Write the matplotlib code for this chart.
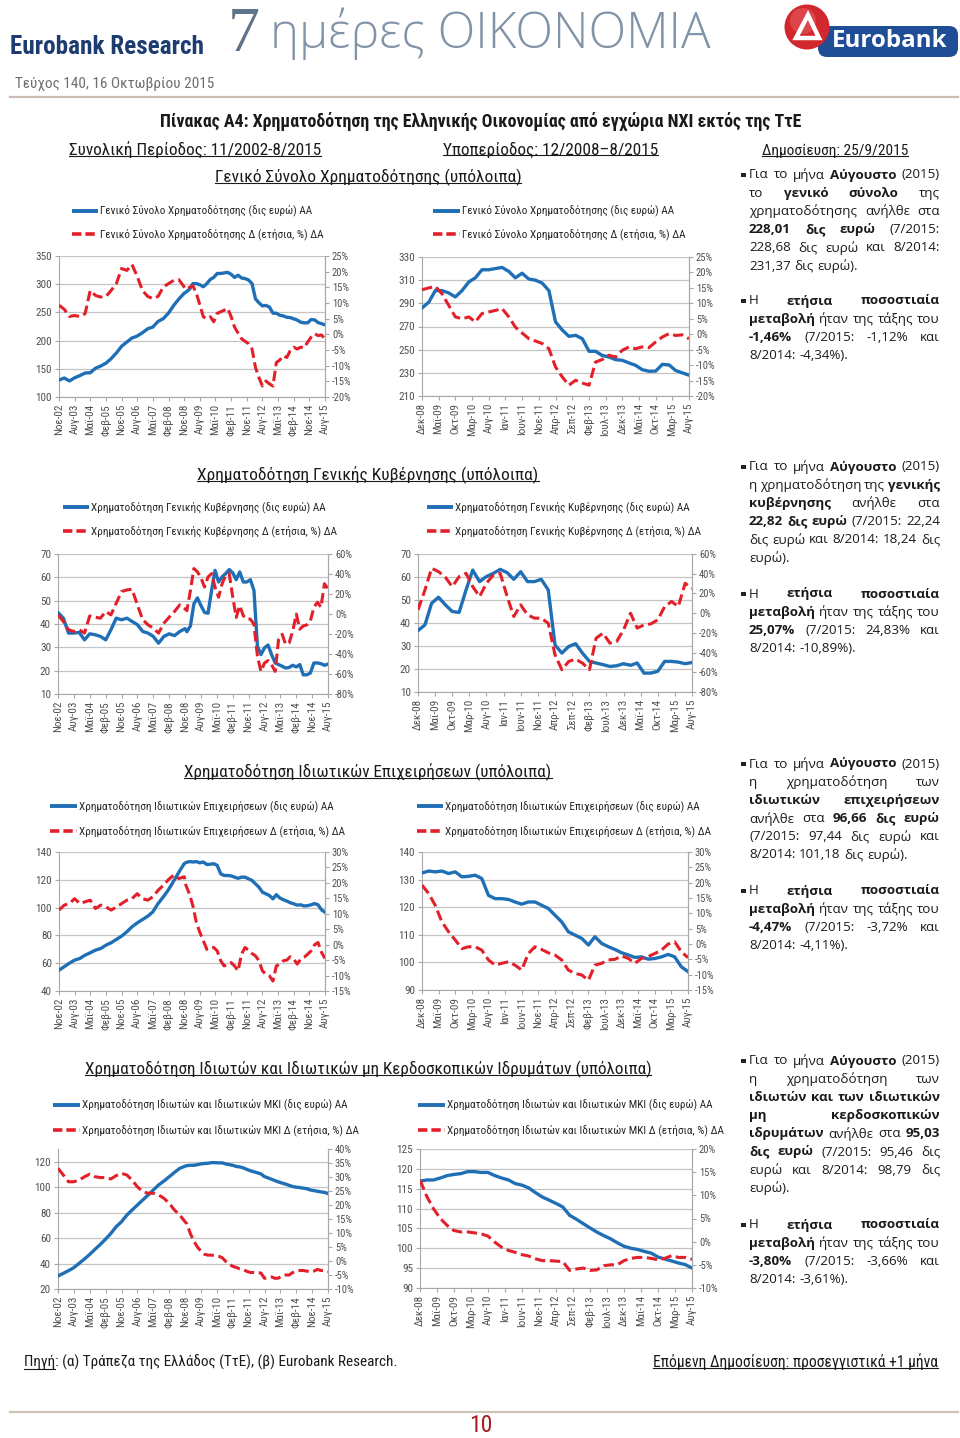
import pandas as pd
import matplotlib
matplotlib.use('Agg')
import matplotlib.pyplot as plt
from matplotlib import font_manager
from matplotlib.patches import Rectangle, Circle, FancyBboxPatch, Polygon

W, H = 960, 1438

have = {f.name for f in font_manager.fontManager.ttflist}
def pick(*names):
    for n in names:
        if n in have:
            return n
    return 'DejaVu Sans'

NARROW = pick('Liberation Sans Narrow', 'Roboto Condensed', 'Open Sans Condensed', 'DejaVu Sans')
BODY = pick('Open Sans', 'Noto Sans', 'DejaVu Sans')
SERIF = pick('Liberation Serif', 'DejaVu Serif')
plt.rcParams['font.family'] = [NARROW, 'DejaVu Sans']

# monthly axis sampled: quarterly to 11/2008, every two months from 12/2008
dates = pd.date_range('2002-11-01', '2008-11-01', freq='3MS').append(
    pd.date_range('2008-12-01', '2015-08-01', freq='2MS'))
SUB = 25  # 12/2008

full_ticks = pd.date_range('2002-11-01', '2015-08-01', freq='9MS')
sub_ticks = pd.date_range('2008-12-01', '2015-08-01', freq='5MS')
MONTHS = ['Ιαν', 'Φεβ', 'Μαρ', 'Απρ', 'Μαϊ', 'Ιουν', 'Ιουλ', 'Αυγ', 'Σεπ', 'Οκτ', 'Νοε', 'Δεκ']

# total financing
total_bn = [130, 133.7, 128.4, 134, 138, 142.5, 143, 151, 155, 160, 168, 178, 190, 197.5, 204.6,
            208, 214, 221, 224, 234, 239, 249, 262.5, 274, 284,
            286, 291, 301, 301, 299, 295.5, 301, 308.5, 312, 319, 319, 320, 321, 317.5, 312, 316,
            311, 310, 307.5, 301, 274, 267, 261.5, 262.4, 259.5, 248.6, 248.6, 245, 243.7, 241.4,
            240.8, 238.5, 236.5, 232.7, 231.37, 231.5, 237.3, 236.8, 232, 230, 228.01]
total_pct = [9.3, 8, 5.7, 6, 5.7, 6.6, 14, 12.4, 11.9, 12.1, 14, 16.2, 21, 20.4, 22.3, 18.5, 14,
             12.1, 11.4, 12.1, 15.1, 16.2, 17.2, 17.4, 15.1,
             14.4, 15, 15.5, 13.1, 9.4, 5.6, 5.0, 5.6, 4.0, 6.7, 7.2, 7.7, 8.3, 5.6, 2.3, 0.4, -1.4,
             -2.2, -3, -4.7, -10.6, -13.8, -16.5, -14.9, -15.8, -16.5, -9, -8.2, -6.8, -7.4, -5.2,
             -4.1, -4.7, -4.1, -4.34, -2.5, -0.9, 0.2, -0.4, -0.2, -1.46]

# general government
gov_bn = [44.9, 42.5, 36.1, 36.1, 36.4, 33.2, 35.8, 35.4, 34.7, 33.2, 37.5, 42.5, 41.8, 42.5, 41.1,
          39.7, 36.8, 36.1, 34.7, 31.8, 34.7, 35.8, 35, 36.8, 38,
          36.7, 39.2, 48.6, 51.2, 47.9, 45, 44.6, 54.4, 63, 58, 60.2, 61.6, 63.3, 61.9, 59, 62.3,
          58, 58, 59, 54.4, 30.5, 26.9, 29.8, 31, 26.9, 23.3, 22.6, 21.9, 21.1, 21.4, 22.3, 21.6,
          22.6, 18.2, 18.24, 19, 23.3, 23.3, 23, 22.3, 22.82]
gov_pct = [-0.9, -7.5, -15.8, -17.5, -15.8, -19.1, -1.9, -3.2, -4.2, 2.5, -0.9, 10.8, 22.4, 24.1,
           24.7, 9.1, -5.8, -10.8, -14.2, -19.1, -9.2, -3.2, 2.5, 9.1, 5,
           3.3, 23.6, 45.5, 42.1, 36.4, 26.9, 37, 40.4, 26.9, 16.8, 30.3, 38.7, 40.4, 16.8, -3.4,
           8.4, -1.7, -5.1, -5.1, -10.2, -42.2, -57.4, -49, -46.6, -50.7, -57.4, -25.4, -20.3,
           -30.4, -28.7, -16.9, -0.1, -15.2, -11.9, -10.89, -6.8, 6.7, 11.8, 6.7, 30.3, 25.07]

# private businesses
bus_bn = [55, 57.5, 60, 62.2, 63.4, 65.8, 67.5, 69.4, 70.6, 73, 74.7, 77.1, 79.5, 82.6, 86.2, 89,
          91.4, 93.8, 96.9, 102.9, 107.7, 113, 119.2, 125.6, 131.6,
          132.4, 133.1, 132.8, 133.1, 132.2, 132.8, 131, 131.2, 131.6, 130.4, 124.3, 123.1, 123.1,
          122.8, 121.9, 121.1, 121.9, 121.9, 120.7, 119.5, 117.1, 114.7, 111.1, 109.9, 108.7,
          106.3, 109.3, 106.9, 105.7, 104.7, 103.5, 102.7, 101.8, 102, 101.18, 101.4, 102, 102.9,
          102, 98.4, 96.66]
bus_pct = [11.2, 12.8, 13.3, 14.9, 13.3, 13.9, 14.4, 11.7, 12.8, 12.2, 11.2, 12.2, 13.3, 14.4,
           14.9, 16.5, 14.9, 14.4, 15.5, 17.6, 19.2, 21.1, 22.5, 21.4, 22,
           19.2, 16.4, 12.6, 7.2, 4, 1.3, -1.5, -0.9, -0.9, -2, -5.2, -6.9, -6.3, -5.8, -6.9, -8.5,
           -3.1, -0.9, -1.8, -2.9, -3.6, -5.2, -8.5, -9.6, -10.1, -11.8, -6.9, -6.3, -5.2, -5,
           -3.9, -4.7, -6.3, -4.7, -4.11, -3.1, -2, 0, 0.7, -2.5, -4.47]

# households and private non-profit institutions
hh_bn = [30.2, 32.3, 34.4, 36.8, 40.2, 43.6, 47.2, 51.2, 55.1, 59.3, 63.7, 69, 72.9, 78.1, 82, 86,
         89.9, 93.8, 97.7, 101.7, 104.8, 108.2, 111.6, 114.8, 116.5,
         116.9, 117.2, 117.2, 117.7, 118.3, 118.6, 118.8, 119.3, 119.3, 119.1, 119.1, 118.3, 117.7,
         117.2, 116.3, 115.9, 115.2, 114, 112.9, 112.1, 111.3, 110.4, 108.3, 107.3, 106.2, 105.1,
         104.1, 103.2, 102.4, 101.4, 100.5, 100, 99.7, 99.2, 98.79, 97.8, 97.3, 96.8, 96.3, 95.9,
         95.03]
hh_pct = [33.1, 30.7, 28.3, 28.3, 28.9, 30.1, 31, 30.1, 29.8, 29.8, 29.3, 30.5, 31.3, 30.7, 28.9,
          26.5, 24.8, 24.2, 24.2, 23.6, 22.4, 20.6, 18.2, 16.4, 14,
          13.3, 9.7, 7.1, 5, 3.5, 2.4, 2.1, 2.1, 1.9, 1.7, 1.2, -0.1, -1.2, -1.9, -2.3, -2.8, -3.1,
          -3.7, -4.1, -4.1, -4.2, -4.3, -6.2, -5.9, -5.7, -6.2, -6.1, -5.2, -5, -5, -4.1, -3.6,
          -3.4, -3.4, -3.61, -3.9, -3.6, -3, -3.4, -3.4, -3.8]

legend_labels = [
    ('Γενικό Σύνολο Χρηματοδότησης (δις ευρώ) ΑΑ', 'Γενικό Σύνολο Χρηματοδότησης Δ (ετήσια, %) ΔΑ'),
    ('Χρηματοδότηση Γενικής Κυβέρνησης (δις ευρώ) ΑΑ', 'Χρηματοδότηση Γενικής Κυβέρνησης Δ (ετήσια, %) ΔΑ'),
    ('Χρηματοδότηση Ιδιωτικών Επιχειρήσεων (δις ευρώ) ΑΑ', 'Χρηματοδότηση Ιδιωτικών Επιχειρήσεων Δ (ετήσια, %) ΔΑ'),
    ('Χρηματοδότηση Ιδιωτών και Ιδιωτικών ΜΚΙ (δις ευρώ) ΑΑ', 'Χρηματοδότηση Ιδιωτών και Ιδιωτικών ΜΚΙ Δ (ετήσια, %) ΔΑ'),
]
row_titles = ['Γενικό Σύνολο Χρηματοδότησης (υπόλοιπα)',
              'Χρηματοδότηση Γενικής Κυβέρνησης (υπόλοιπα)',
              'Χρηματοδότηση Ιδιωτικών Επιχειρήσεων (υπόλοιπα)',
              'Χρηματοδότηση Ιδιωτών και Ιδιωτικών μη Κερδοσκοπικών Ιδρυμάτων (υπόλοιπα)']

BLUE = '#1f6fb6'
RED = '#e3202a'
GRID = '#c4c4c4'
AXC = '#a8a8a8'
TICK = '#505050'
TXT = '#1a1a1a'

fig = plt.figure(figsize=(W / 100, H / 100), dpi=100)
ax0 = fig.add_axes([0, 0, 1, 1])
ax0.set_xlim(0, W)
ax0.set_ylim(H, 0)
ax0.axis('off')
R = fig.canvas.get_renderer()


def put(x, y, s, width=None, size=10, ha='left', family=None, weight='normal', color=TXT,
        underline=False):
    t = ax0.text(x, y, s, fontsize=size, ha=ha, va='center', family=family or NARROW,
                 fontweight=weight, color=color)
    if width:
        t.set_fontsize(size * width / t.get_window_extent(R).width)
    if underline:
        bb = t.get_window_extent(R)
        em = t.get_fontsize() * 100 / 72
        uy = H - (bb.y0 + 0.15 * em)
        ax0.plot([bb.x0, bb.x1], [uy, uy], color=color, lw=0.8)
    return t


def label(d):
    return f'{MONTHS[d.month - 1]}-{d.year % 100:02d}'


def chart(box, xs, bn, pct, ylim, yticks, rlim, rticks, xt):
    x0, y0, x1, y1 = box
    ax = fig.add_axes([x0 / W, 1 - y1 / H, (x1 - x0) / W, (y1 - y0) / H])
    ax.plot(xs, bn, color=BLUE, lw=2.4, zorder=3)
    ax.set_xlim(xs[0], xs[-1])
    ax.set_ylim(*ylim)
    ax.set_yticks(yticks)
    ax.set_yticklabels([f'{v:g}' for v in yticks])
    ax.set_xticks(list(xt.to_pydatetime()))
    ax.set_xticklabels([label(d) for d in xt], rotation=90)
    ax.grid(axis='y', color=GRID, lw=0.9)
    ax.set_axisbelow(True)
    ax.spines['top'].set_visible(False)
    for s in ['left', 'bottom', 'right']:
        ax.spines[s].set_color(AXC)
    ax.tick_params(colors=AXC, labelcolor=TICK, length=3, width=0.8, labelsize=8, pad=2)
    ax2 = ax.twinx()
    ax2.plot(xs, pct, color=RED, lw=2.2, dashes=(3.4, 1.5))
    ax2.set_ylim(*rlim)
    ax2.set_yticks(rticks)
    ax2.set_yticklabels([f'{v:g}%' for v in rticks])
    for s in ['top', 'left', 'bottom']:
        ax2.spines[s].set_visible(False)
    ax2.spines['right'].set_color(AXC)
    ax2.tick_params(colors=AXC, labelcolor=TICK, length=3, width=0.8, labelsize=7.6, pad=2)


def rng(a, b, s):
    out, v = [], a
    while v <= b + 1e-9:
        out.append(round(v, 6))
        v += s
    return out


xs = list(dates.to_pydatetime())
series = [(total_bn, total_pct), (gov_bn, gov_pct), (bus_bn, bus_pct), (hh_bn, hh_pct)]

layout = [
    dict(full=(59, 256, 325, 397), sub=(422, 257, 689, 396),
         fy=((100, 350), rng(100, 350, 50)), fr=((-20, 25), rng(-20, 25, 5)),
         sy=((210, 330), rng(210, 330, 20)), sr=((-20, 25), rng(-20, 25, 5)),
         leg=((72, 100), (433, 462)), ly=(211, 234), title_y=177),
    dict(full=(58, 554, 328, 694), sub=(418, 554, 692, 692),
         fy=((10, 70), rng(10, 70, 10)), fr=((-80, 60), rng(-80, 60, 20)),
         sy=((10, 70), rng(10, 70, 10)), sr=((-80, 60), rng(-80, 60, 20)),
         leg=((63, 91), (427, 455)), ly=(507, 531), title_y=475),
    dict(full=(59, 852, 325, 991), sub=(422, 852, 688, 990),
         fy=((40, 140), rng(40, 140, 20)), fr=((-15, 30), rng(-15, 30, 5)),
         sy=((90, 140), rng(90, 140, 10)), sr=((-15, 30), rng(-15, 30, 5)),
         leg=((50, 79), (417, 445)), ly=(806, 831), title_y=772),
    dict(full=(58, 1149, 328, 1289), sub=(420, 1149, 692, 1288),
         fy=((20, 130), rng(20, 120, 20)), fr=((-10, 40), rng(-10, 40, 5)),
         sy=((90, 125), rng(90, 125, 5)), sr=((-10, 20), rng(-10, 20, 5)),
         leg=((53, 82), (418, 447)), ly=(1105, 1130), title_y=1069),
]
title_widths = [306, 340, 366, 567]

# legend font size from the first label
probe = ax0.text(0, 0, legend_labels[0][0], fontsize=10, family=NARROW)
LEG_SIZE = 10 * 212 / probe.get_window_extent(R).width
probe.remove()

for i, (lay, (bn, pct)) in enumerate(zip(layout, series)):
    chart(lay['full'], xs, bn, pct, lay['fy'][0], lay['fy'][1], lay['fr'][0], lay['fr'][1], full_ticks)
    chart(lay['sub'], xs[SUB:], bn[SUB:], pct[SUB:], lay['sy'][0], lay['sy'][1],
          lay['sr'][0], lay['sr'][1], sub_ticks)
    put(368, lay['title_y'], row_titles[i], width=title_widths[i], ha='center', underline=True)
    for lx, tx in lay['leg']:
        ya, yb = lay['ly']
        ax0.plot([lx, tx - 2], [ya, ya], color=BLUE, lw=2.8, solid_capstyle='butt')
        ax0.plot([lx, tx - 2], [yb, yb], color=RED, lw=2.6, dashes=(2.6, 1.1))
        ax0.text(tx, ya, legend_labels[i][0], fontsize=LEG_SIZE, va='center', color='#262626')
        ax0.text(tx, yb, legend_labels[i][1], fontsize=LEG_SIZE, va='center', color='#262626')

# header
put(10, 47, 'Eurobank Research', width=193, weight='bold', color='#1d3c70')
put(244, 36, '7', size=46, ha='center', family=SERIF, color='#5f7389')
put(270, 34, 'ημέρες ΟΙΚΟΝΟΜΙΑ', width=440, family=BODY, weight='light', color='#8193a8')
ax0.add_patch(FancyBboxPatch((818, 26), 140, 31, boxstyle='round,pad=0,rounding_size=9',
                             fc='#1f4e96', ec='none'))
ax0.add_patch(Circle((807, 27), 22.5, fc='#d3272e', ec='none'))
ax0.add_patch(Circle((803, 21), 13, fc='#e86a6c', ec='none', alpha=0.45))
ax0.add_patch(Polygon([(796, 38), (808, 15), (819, 38)], closed=True, fill=False, ec='white', lw=3.2))
put(890, 41, 'Eurobank', width=116, ha='center', family=BODY, weight='bold', color='white')
put(15, 84, 'Τεύχος 140, 16 Οκτωβρίου 2015', width=198, color='#6e6e6e')
ax0.plot([10, 958], [97, 97], color='#cdbcb4', lw=1.6)

put(481, 121, 'Πίνακας Α4: Χρηματοδότηση της Ελληνικής Οικονομίας από εγχώρια ΝΧΙ εκτός της ΤτΕ',
    width=642, ha='center', weight='bold')
put(69, 150, 'Συνολική Περίοδος: 11/2002-8/2015', width=252, underline=True)
put(443, 150, 'Υποπερίοδος: 12/2008–8/2015', width=214, underline=True)
put(762, 151, 'Δημοσίευση: 25/9/2015', width=146, underline=True)

# commentary on the right
paragraphs = [
    (175, ['Για το μήνα **Αύγουστο** (2015)', 'το **γενικό** **σύνολο** της',
           'χρηματοδότησης ανήλθε στα', '**228,01** **δις** **ευρώ** (7/2015:',
           '228,68 δις ευρώ και 8/2014:', '231,37 δις ευρώ).']),
    (301, ['Η **ετήσια** **ποσοστιαία**', '**μεταβολή** ήταν της τάξης του',
           '**-1,46%** (7/2015: -1,12% και', '8/2014: -4,34%).']),
    (467, ['Για το μήνα **Αύγουστο** (2015)', 'η χρηματοδότηση της **γενικής**',
           '**κυβέρνησης** ανήλθε στα', '**22,82** **δις** **ευρώ** (7/2015: 22,24',
           'δις ευρώ και 8/2014: 18,24 δις', 'ευρώ).']),
    (594, ['Η **ετήσια** **ποσοστιαία**', '**μεταβολή** ήταν της τάξης του',
           '**25,07%** (7/2015: 24,83% και', '8/2014: -10,89%).']),
    (764, ['Για το μήνα **Αύγουστο** (2015)', 'η χρηματοδότηση των',
           '**ιδιωτικών** **επιχειρήσεων**', 'ανήλθε στα **96,66** **δις** **ευρώ**',
           '(7/2015: 97,44 δις ευρώ και', '8/2014: 101,18 δις ευρώ).']),
    (891, ['Η **ετήσια** **ποσοστιαία**', '**μεταβολή** ήταν της τάξης του',
           '**-4,47%** (7/2015: -3,72% και', '8/2014: -4,11%).']),
    (1061, ['Για το μήνα **Αύγουστο** (2015)', 'η χρηματοδότηση των',
            '**ιδιωτών** **και** **των** **ιδιωτικών**', '**μη** **κερδοσκοπικών**',
            '**ιδρυμάτων** ανήλθε στα **95,03**', '**δις** **ευρώ** (7/2015: 95,46 δις',
            'ευρώ και 8/2014: 98,79 δις', 'ευρώ).']),
    (1225, ['Η **ετήσια** **ποσοστιαία**', '**μεταβολή** ήταν της τάξης του',
            '**-3,80%** (7/2015: -3,66% και', '8/2014: -3,61%).']),
]

BSIZE = 9.6
for y, lines in paragraphs:
    ax0.add_patch(Rectangle((741, y - 2.4), 4.8, 4.8, fc='#222222', ec='none'))
    sp = BSIZE * 100 / 72 * 0.27
    for i, line in enumerate(lines):
        yy = y + i * 18.2
        words = [(w[2:-2], True) if w.startswith('**') else (w, False) for w in line.split(' ')]
        ts = [ax0.text(0, yy, w, fontsize=BSIZE, family=BODY, va='center', color=TXT,
                       fontweight='bold' if b else 'normal') for w, b in words]
        wid = [t.get_window_extent(R).width for t in ts]
        if i == len(lines) - 1 or len(ts) == 1:
            gap = sp
        else:
            gap = max((940 - 749 - sum(wid)) / (len(ts) - 1), 1)
        x = 749
        for t, w in zip(ts, wid):
            t.set_x(x)
            x += w + gap

# footer
src = put(24, 1362, 'Πηγή: (α) Τράπεζα της Ελλάδος (ΤτΕ), (β) Eurobank Research.', width=371)
tmp = ax0.text(0, 0, 'Πηγή', fontsize=src.get_fontsize(), family=NARROW)
pw = tmp.get_window_extent(R).width
tmp.remove()
ax0.plot([24, 24 + pw], [1368.5, 1368.5], color=TXT, lw=0.8)
put(938, 1362, 'Επόμενη Δημοσίευση: προσεγγιστικά +1 μήνα', width=284, ha='right', underline=True)
ax0.plot([10, 958], [1412, 1412], color='#cdc3b4', lw=1.6)
put(481, 1425, '10', size=17, ha='center', color='#a31d22')

fig.savefig('out.png', dpi=100)
